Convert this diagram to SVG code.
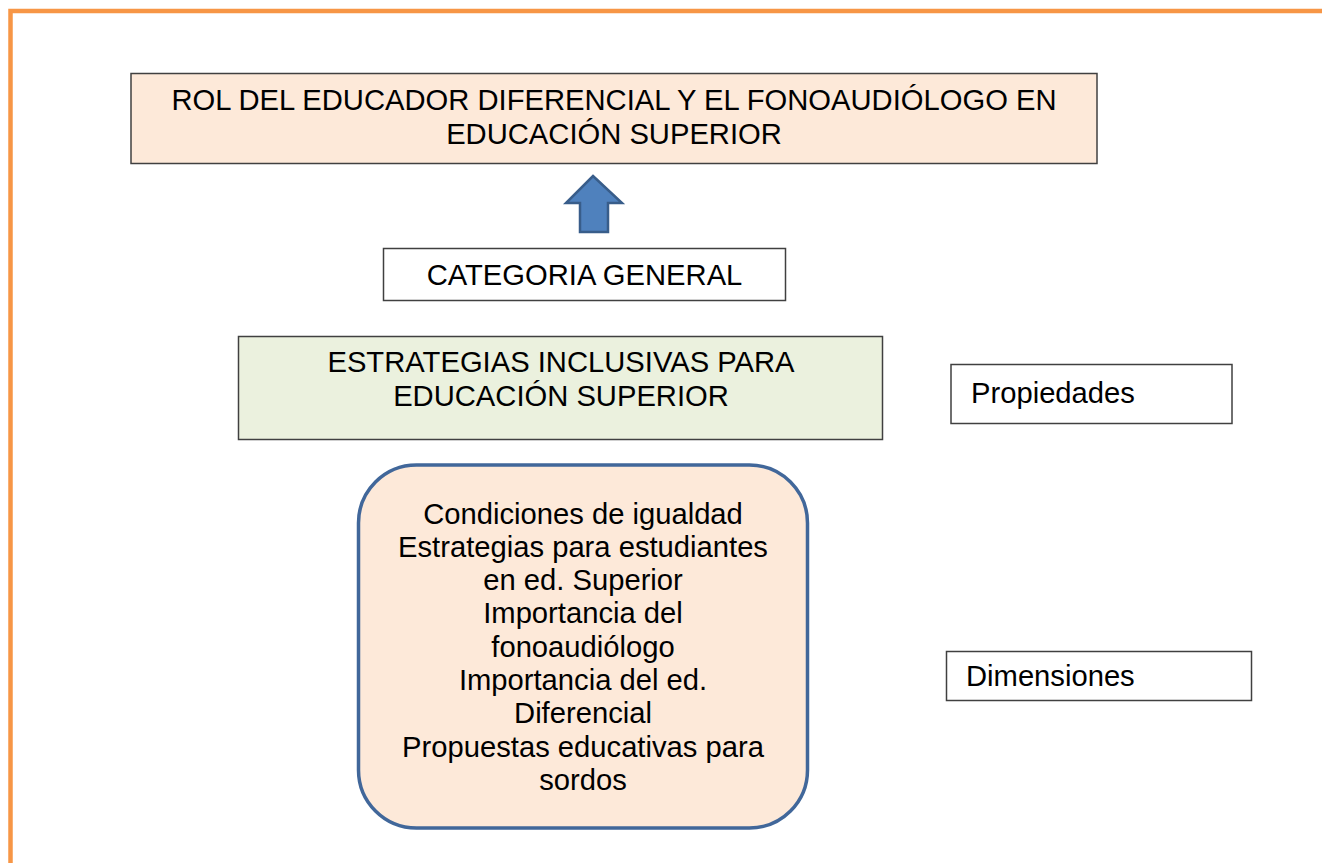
<svg xmlns="http://www.w3.org/2000/svg" width="1322" height="863" viewBox="0 0 1322 863">
<style>
text{font-family:"Liberation Sans",Arial,sans-serif;font-size:29.2px;fill:#000}
.c{text-anchor:middle}
.box{stroke:#404040;stroke-width:1.5}
</style>
<rect width="1322" height="863" fill="#fff"/>
<path d="M10.5 863 V11 H1322" fill="none" stroke="#F79646" stroke-width="4.5"/>
<g id="title">
<rect class="box" x="131" y="73.5" width="966" height="90" fill="#FDE9D9"/>
<text class="c" x="614" y="109.5">ROL DEL EDUCADOR DIFERENCIAL Y EL FONOAUDIÓLOGO EN</text>
<text class="c" x="614" y="143.5">EDUCACIÓN SUPERIOR</text>
</g>
<g id="connectors">
<polygon points="593,176 622,203 608,203 608,232 580,232 580,203 566,203" fill="#4F81BD" stroke="#385D8A" stroke-width="2.5" stroke-linejoin="miter"/>
</g>
<g id="categoria">
<rect class="box" x="383.5" y="248.5" width="402" height="52" fill="#fff"/>
<text class="c" x="584.5" y="284.5">CATEGORIA GENERAL</text>
</g>
<g id="estrategias">
<rect class="box" x="238.5" y="336.5" width="644" height="103" fill="#EBF1DE"/>
<text class="c" x="561" y="371.5">ESTRATEGIAS INCLUSIVAS PARA</text>
<text class="c" x="561" y="405.5">EDUCACIÓN SUPERIOR</text>
</g>
<g id="propiedades">
<rect class="box" x="951" y="364.5" width="281" height="59" fill="#fff"/>
<text x="971" y="402.5">Propiedades</text>
</g>
<g id="dimensiones">
<rect class="box" x="946.5" y="651.5" width="305" height="49" fill="#fff"/>
<text x="966" y="685.5">Dimensiones</text>
</g>
<g id="lista">
<rect x="358.5" y="465" width="449" height="363" rx="58" ry="58" fill="#FDE9D9" stroke="#41679A" stroke-width="3.5"/>
<text class="c" x="583" y="523.5">Condiciones de igualdad</text>
<text class="c" x="583" y="556.8">Estrategias para estudiantes</text>
<text class="c" x="583" y="590.1">en ed. Superior</text>
<text class="c" x="583" y="623.4">Importancia del</text>
<text class="c" x="583" y="656.7">fonoaudiólogo</text>
<text class="c" x="583" y="690">Importancia del ed.</text>
<text class="c" x="583" y="723.3">Diferencial</text>
<text class="c" x="583" y="756.6">Propuestas educativas para</text>
<text class="c" x="583" y="789.9">sordos</text>
</g>
</svg>
